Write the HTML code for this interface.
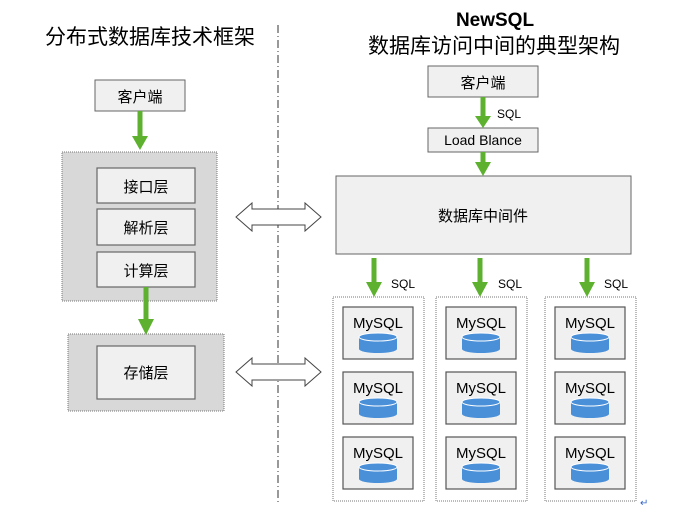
<!DOCTYPE html>
<html><head><meta charset="utf-8"><style>
html,body{margin:0;padding:0;background:#fff;}
svg{display:block;}
text{font-family:"Liberation Sans","Noto Sans CJK SC",sans-serif;fill:#000;}
</style></head><body>
<svg width="699" height="525" viewBox="0 0 699 525" xmlns="http://www.w3.org/2000/svg">
<defs>
<g id="dbl"><polygon points="0,14 16,0 16,6 69,6 69,0 85,14 69,28 69,22 16,22 16,28" fill="#fff" stroke="#444" stroke-width="1"/></g>
<g id="my">
<rect x="0" y="0" width="70" height="52" fill="#f0f0f0" stroke="#555" stroke-width="1.2"/>
<text x="35" y="21" font-size="15" text-anchor="middle">MySQL</text>
<path d="M16,30 v12 a19,4 0 0 0 38,0 v-12" fill="#4a90d9"/>
<ellipse cx="35" cy="30" rx="19" ry="4" fill="#4a90d9" stroke="#fff" stroke-width="1"/>
</g>
</defs>
<text x="45" y="44" font-size="21">分布式数据库技术框架</text>
<line x1="278" y1="25" x2="278" y2="505" stroke="#333" stroke-width="1" stroke-dasharray="8,3,1,3"/>
<rect x="95" y="80" width="90" height="31" fill="#f0f0f0" stroke="#666"/>
<text x="140" y="102" font-size="15" text-anchor="middle">客户端</text>
<rect x="62" y="152" width="155" height="149" fill="#d8d8d8" stroke="#777" stroke-dasharray="1,1"/>
<rect x="97" y="168" width="98" height="35" fill="#f0f0f0" stroke="#666" stroke-width="1.2"/>
<text x="146" y="192" font-size="15" text-anchor="middle">接口层</text>
<rect x="97" y="209" width="98" height="36" fill="#f0f0f0" stroke="#666" stroke-width="1.2"/>
<text x="146" y="233" font-size="15" text-anchor="middle">解析层</text>
<rect x="97" y="252" width="98" height="35" fill="#f0f0f0" stroke="#666" stroke-width="1.2"/>
<text x="146" y="276" font-size="15" text-anchor="middle">计算层</text>
<rect x="68" y="334" width="156" height="77" fill="#d8d8d8" stroke="#777" stroke-dasharray="1,1"/>
<rect x="97" y="346" width="98" height="53" fill="#f0f0f0" stroke="#666" stroke-width="1.2"/>
<text x="146" y="378" font-size="15" text-anchor="middle">存储层</text>
<use href="#dbl" x="236" y="203"/>
<use href="#dbl" x="236" y="358"/>
<text x="495" y="26" font-size="19" font-weight="bold" text-anchor="middle">NewSQL</text>
<text x="494" y="53" font-size="21" text-anchor="middle">数据库访问中间的典型架构</text>
<rect x="428" y="66" width="110" height="31" fill="#f0f0f0" stroke="#666"/>
<text x="483" y="88" font-size="15" text-anchor="middle">客户端</text>
<text x="497" y="118" font-size="12">SQL</text>
<rect x="428" y="128" width="110" height="24" fill="#f0f0f0" stroke="#666"/>
<text x="483" y="145" font-size="14" text-anchor="middle">Load Blance</text>
<rect x="336" y="176" width="295" height="78" fill="#f0f0f0" stroke="#666"/>
<text x="483" y="221" font-size="15" text-anchor="middle">数据库中间件</text>
<g fill="#5db12f">
<rect x="137.5" y="111" width="5" height="28"/><polygon points="132,136 148,136 140,150"/>
<rect x="143.5" y="287" width="5" height="36"/><polygon points="138,319 154,319 146,335"/>
<rect x="480.5" y="97" width="5" height="20"/><polygon points="475,116 491,116 483,128"/>
<rect x="480.5" y="152" width="5" height="12"/><polygon points="475,162 491,162 483,176"/>
<rect x="371.5" y="258" width="5" height="26"/><polygon points="366,282 382,282 374,297"/>
<rect x="477.5" y="258" width="5" height="26"/><polygon points="472,282 488,282 480,297"/>
<rect x="584.5" y="258" width="5" height="26"/><polygon points="579,282 595,282 587,297"/>
</g>
<text x="391" y="288" font-size="12">SQL</text>
<text x="498" y="288" font-size="12">SQL</text>
<text x="604" y="288" font-size="12">SQL</text>
<rect x="333" y="297" width="91" height="204" fill="none" stroke="#777" stroke-dasharray="1,1"/>
<rect x="436" y="297" width="91" height="204" fill="none" stroke="#777" stroke-dasharray="1,1"/>
<rect x="545" y="297" width="91" height="204" fill="none" stroke="#777" stroke-dasharray="1,1"/>
<use href="#my" x="343" y="307"/><use href="#my" x="343" y="372"/><use href="#my" x="343" y="437"/>
<use href="#my" x="446" y="307"/><use href="#my" x="446" y="372"/><use href="#my" x="446" y="437"/>
<use href="#my" x="555" y="307"/><use href="#my" x="555" y="372"/><use href="#my" x="555" y="437"/>
<text x="640" y="506" font-size="10" style="fill:#3366cc">↵</text>
</svg>
</body></html>
